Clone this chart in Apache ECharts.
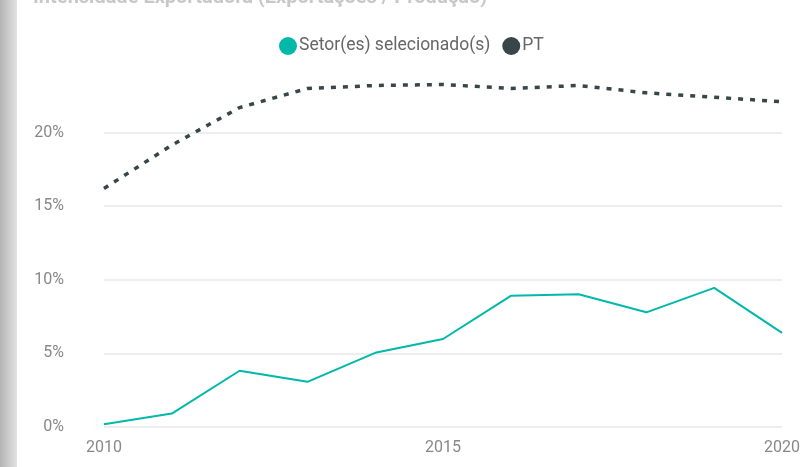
<!DOCTYPE html>
<html>
<head>
<meta charset="utf-8">
<script src="https://cdn.jsdelivr.net/npm/echarts@6/dist/echarts.min.js"></script>
<style>
  html, body { margin: 0; padding: 0; background: #fff; }
  #chart { width: 803px; height: 467px; }
</style>
</head>
<body>
<div id="chart"></div>
<script>
// dados (%)
const years = ['2010', '2011', '2012', '2013', '2014', '2015', '2016', '2017', '2018', '2019', '2020']
const setorValues = [0.18, 0.91, 3.82, 3.07, 5.04, 5.98, 8.91, 9.02, 7.79, 9.45, 6.39]
const ptValues = [16.2, 19.15, 21.7, 23.0, 23.2, 23.27, 23.0, 23.2, 22.7, 22.4, 22.1]
const yTicks = [0, 5, 10, 15, 20, 25]

const chart = echarts.init(document.getElementById('chart'))

const option = {
  animation: false,
  textStyle: { fontFamily: 'Roboto' },
  title: {
    text: 'Intensidade Exportadora (Exportações / Produção)',
    left: 28,
    top: -17,
    textStyle: { color: '#c8c8c8', fontSize: 20, fontWeight: 'bold' }
  },
  graphic: [{
    type: 'rect',
    left: 0,
    top: 0,
    shape: { width: 17, height: 467 },
    style: {
      fill: new echarts.graphic.LinearGradient(0, 0, 1, 0, [
        { offset: 0, color: '#b4b4b4' },
        { offset: 1, color: '#e2e2e2' }
      ])
    },
    z: 10
  }],
  legend: {
    left: 274,
    top: 32,
    icon: 'circle',
    itemWidth: 18,
    itemHeight: 18,
    itemGap: 12,
    textStyle: { color: '#666', fontSize: 17.5, padding: [0, 0, 0, -3] },
    data: ['Setor(es) selecionado(s)', 'PT']
  },
  grid: { left: 104, right: 17, top: 59, bottom: 40 },
  xAxis: {
    type: 'category',
    data: years,
    boundaryGap: false,
    axisLine: { show: false },
    axisTick: { show: false },
    axisLabel: {
      interval: 4,
      color: '#888',
      fontSize: 16,
      margin: 13
    }
  },
  yAxis: {
    type: 'value',
    min: yTicks[0],
    max: yTicks[yTicks.length - 1],
    interval: 5,
    axisLine: { show: false },
    axisTick: { show: false },
    axisLabel: {
      color: '#888',
      fontSize: 16,
      margin: 40,
      formatter: (v) => (v === 25 ? '' : v + '%')
    },
    splitLine: {
      lineStyle: {
        color: ['#e9e9e9', '#e9e9e9', '#e9e9e9', '#e9e9e9', '#e9e9e9', 'rgba(0,0,0,0)'],
        width: 1.5
      }
    }
  },
  series: [
    {
      name: 'Setor(es) selecionado(s)',
      type: 'line',
      data: setorValues,
      symbol: 'none',
      color: '#01B8AA',
      lineStyle: { width: 2, color: '#01B8AA' }
    },
    {
      name: 'PT',
      type: 'line',
      data: ptValues,
      symbol: 'none',
      color: '#374649',
      lineStyle: { width: 3.5, color: '#374649', type: [5, 7] }
    }
  ]
}

chart.setOption(option)
</script>
</body>
</html>
